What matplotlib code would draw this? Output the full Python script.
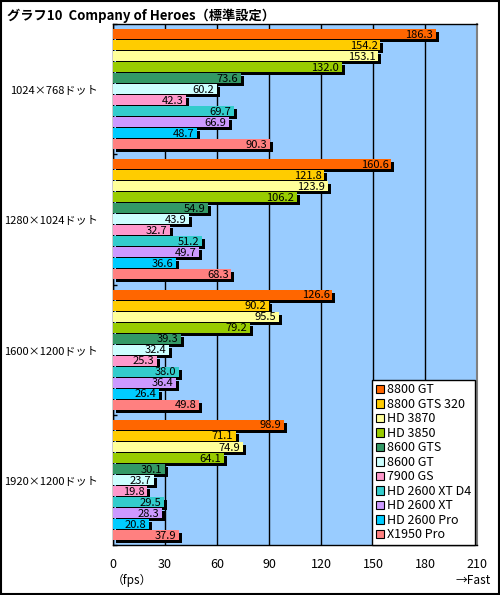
import matplotlib
matplotlib.use('Agg')
import matplotlib.pyplot as plt
import matplotlib.transforms as mtransforms
from matplotlib.patches import Rectangle
import numpy as np

plt.rcParams['font.family'] = ['Noto Sans CJK JP', 'DejaVu Sans']

# data
resolutions = ['1024×768ドット', '1280×1024ドット', '1600×1200ドット', '1920×1200ドット']
cards = ['8800 GT', '8800 GTS 320', 'HD 3870', 'HD 3850', '8600 GTS', '8600 GT',
         '7900 GS', 'HD 2600 XT D4', 'HD 2600 XT', 'HD 2600 Pro', 'X1950 Pro']
colors = ['#FF6600', '#FFCC00', '#FFFF99', '#99CC00', '#339966', '#CCFFFF',
          '#FF99CC', '#33CCCC', '#CC99FF', '#00CCFF', '#FF8080']
fps_1024 = [186.3, 154.2, 153.1, 132.0, 73.6, 60.2, 42.3, 69.7, 66.9, 48.7, 90.3]
fps_1280 = [160.6, 121.8, 123.9, 106.2, 54.9, 43.9, 32.7, 51.2, 49.7, 36.6, 68.3]
fps_1600 = [126.6, 90.2, 95.5, 79.2, 39.3, 32.4, 25.3, 38.0, 36.4, 26.4, 49.8]
fps_1920 = [98.9, 71.1, 74.9, 64.1, 30.1, 23.7, 19.8, 29.5, 28.3, 20.8, 37.9]
x_ticks = [0, 30, 60, 90, 120, 150, 180, 210]

values = np.array([fps_1024, fps_1280, fps_1600, fps_1920])  # (group, card)

fig = plt.figure(figsize=(5.0, 5.95), dpi=100)
ax = fig.add_axes([113 / 500, 1 - 545 / 595, 364 / 500, 521 / 595])
ax.set_facecolor('#99CCFF')

slot = 11 / 130
bar_h = 10 / 130
group_pos = np.arange(len(resolutions))

shadow = ax.transData + mtransforms.ScaledTranslation(3 / 100, -3 / 100, fig.dpi_scale_trans)

for i, card in enumerate(cards):
    y = group_pos + (i - 5) * slot
    vals = values[:, i]
    ax.barh(y, vals, height=bar_h, color='black', transform=shadow, zorder=3 + 2 * i)
    ax.barh(y, vals, height=bar_h, color=colors[i], label=card, zorder=4 + 2 * i)
    for yy, v in zip(y, vals):
        ax.annotate(f'{v:.1f}', (v, yy), xytext=(-2, -0.5), textcoords='offset points',
                    ha='right', va='center', fontsize=8, zorder=40)

ax.set_xlim(0, 210)
ax.set_ylim(3.5, -0.5)
ax.set_xticks(x_ticks)
ax.grid(True, axis='x', color='black', linewidth=1, zorder=1)
ax.set_axisbelow(True)
ax.set_yticks(group_pos)
ax.set_yticklabels(resolutions, fontsize=8)
ax.set_yticks(np.arange(-0.5, 3.6, 1.0), minor=True)
ax.tick_params(axis='y', which='major', length=0, pad=11)
ax.tick_params(axis='y', which='minor', direction='in', length=3, width=1)
ax.tick_params(axis='x', length=0, pad=9, labelsize=9)
for side in ['left', 'top', 'bottom']:
    ax.spines[side].set_color('black')
    ax.spines[side].set_linewidth(1)
ax.spines['right'].set_color('#808080')
ax.spines['right'].set_linewidth(1.5)

leg = ax.legend(loc='lower right', bbox_to_anchor=(0.995, 0.0), borderaxespad=0,
                fontsize=9, frameon=True, fancybox=False, framealpha=1,
                handlelength=0.65, handleheight=0.65, handletextpad=0.25,
                labelspacing=0.12, borderpad=0.3)
leg.get_frame().set_edgecolor('black')
leg.get_frame().set_linewidth(1)
for h in leg.legend_handles:
    h.set_edgecolor('black')
    h.set_linewidth(0.8)
leg.set_zorder(50)

fig.text(7 / 500, 1 - 16 / 595, 'グラフ10  Company of Heroes（標準設定）',
         fontsize=9.5, fontweight='bold', ha='left', va='center')
fig.text(112 / 500, 1 - 580 / 595, '（fps）', fontsize=8.5, ha='left', va='center')
fig.text(491 / 500, 1 - 581 / 595, '→Fast', fontsize=8.5, ha='right', va='center')

fig.patches.append(Rectangle((0.002, 0.002), 0.996, 0.996, transform=fig.transFigure,
                             fill=False, edgecolor='black', linewidth=1.5))

fig.savefig('out.png', dpi=100)
